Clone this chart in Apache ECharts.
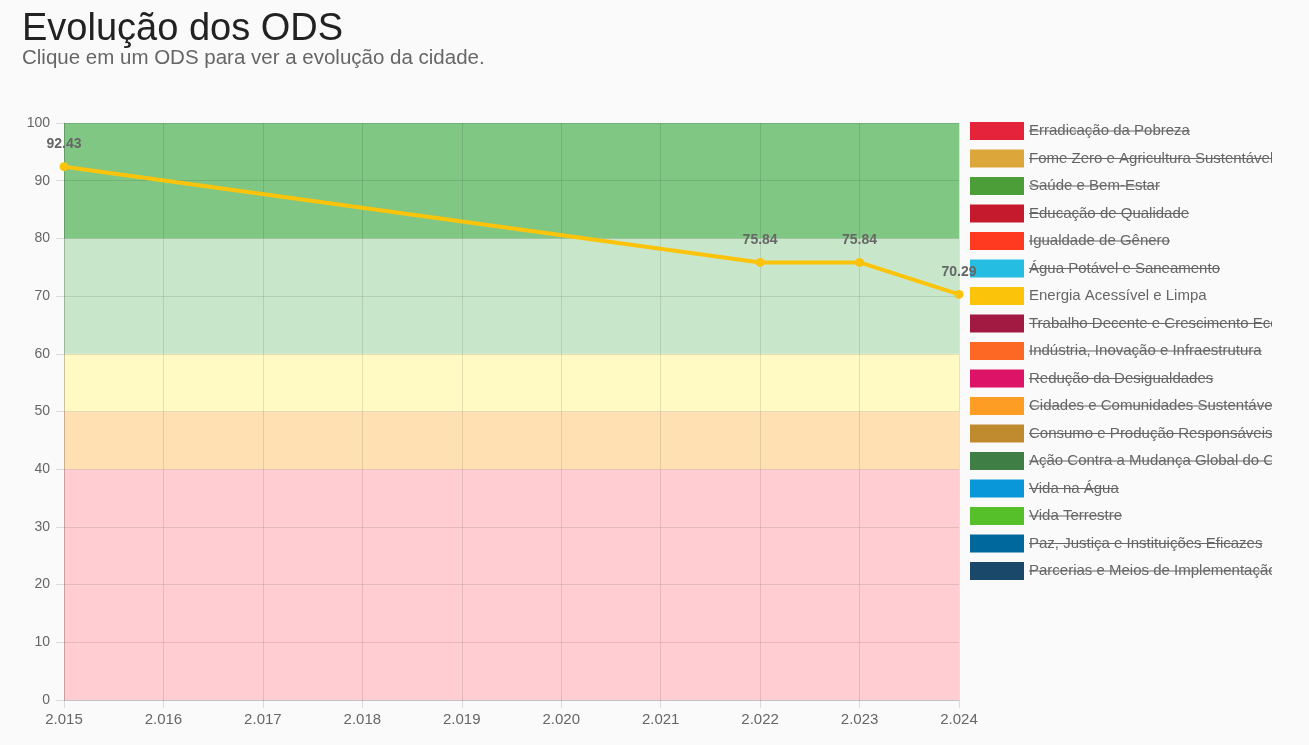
<!DOCTYPE html>
<html>
<head>
    <meta charset="utf-8">
    <script src="https://cdn.jsdelivr.net/npm/echarts@6/dist/echarts.min.js"></script>
    <style>
        body { margin: 0; background: #fafafa; }
        #main { width: 1272px; height: 745px; }
    </style>
</head>
<body>
    <div id="main"></div>
    <script type="text/javascript">
        var odsNames = [
            'Erradicação da Pobreza',
            'Fome Zero e Agricultura Sustentável',
            'Saúde e Bem-Estar',
            'Educação de Qualidade',
            'Igualdade de Gênero',
            'Água Potável e Saneamento',
            'Energia Acessível e Limpa',
            'Trabalho Decente e Crescimento Econômico',
            'Indústria, Inovação e Infraestrutura',
            'Redução da Desigualdades',
            'Cidades e Comunidades Sustentáveis',
            'Consumo e Produção Responsáveis',
            'Ação Contra a Mudança Global do Clima',
            'Vida na Água',
            'Vida Terrestre',
            'Paz, Justiça e Instituições Eficazes',
            'Parcerias e Meios de Implementação'
        ];
        var odsColors = [
            '#e5243b', '#dda63a', '#4c9f38', '#c5192d', '#ff3a21', '#26bde2',
            '#fcc30b', '#a21942', '#fd6925', '#dd1367', '#fd9d24', '#bf8b2e',
            '#3f7e44', '#0a97d9', '#56c02b', '#00689d', '#19486a'
        ];
        // só este ODS está ativo, os outros aparecem riscados na legenda
        var odsAtivo = 'Energia Acessível e Limpa';

        var anos = [2015, 2022, 2023, 2024];
        var notas = [92.43, 75.84, 75.84, 70.29];

        // faixas de desempenho (limites do eixo y)
        var faixas = [0, 40, 50, 60, 80, 100];
        var corFaixas = ['#ffcdd2', '#ffe0b2', '#fff9c4', '#c8e6c9', '#81c784'];

        var fonte = '"Liberation Sans", Arial, Helvetica, sans-serif';
        var myChart = echarts.init(document.getElementById('main'));

        var formatAno = function (v) {
            return String(v).replace(/(\d)(\d{3})$/, '$1.$2');
        };

        var areas = [];
        for (var i = 0; i < corFaixas.length; i++) {
            areas.push([
                { yAxis: faixas[i], itemStyle: { color: corFaixas[i] } },
                { yAxis: faixas[i + 1] }
            ]);
        }

        var series = [{
            name: 'faixas',
            type: 'line',
            data: [],
            z: 1,
            silent: true,
            markArea: { silent: true, data: areas }
        }];
        odsNames.forEach(function (nome, idx) {
            var dados = [];
            if (nome === odsAtivo) {
                for (var k = 0; k < anos.length; k++) dados.push([anos[k], notas[k]]);
            }
            series.push({
                name: nome,
                type: 'line',
                z: 5,
                data: dados,
                color: odsColors[idx],
                symbol: 'circle',
                symbolSize: 9,
                lineStyle: { width: 4, color: odsColors[idx] },
                itemStyle: { color: odsColors[idx] },
                label: {
                    show: true,
                    position: 'top',
                    distance: 11,
                    color: '#666',
                    fontWeight: 'bold',
                    fontSize: 14,
                    fontFamily: fonte,
                    formatter: function (p) { return p.value[1].toFixed(2); }
                }
            });
        });

        // legenda: caixas e textos; itens desativados recebem um risco
        var legLeft = 970, legTop = 122, boxW = 54, boxH = 18, legGap = 9.5;
        var medidor = document.createElement('canvas').getContext('2d');
        medidor.font = '15px ' + fonte;
        var riscos = [];
        odsNames.forEach(function (nome, idx) {
            if (nome === odsAtivo) return;
            var y = legTop + idx * (boxH + legGap) + boxH / 2;
            var x0 = legLeft + boxW + 5;
            riscos.push({
                type: 'line',
                z: 10,
                silent: true,
                shape: { x1: x0, y1: y, x2: x0 + medidor.measureText(nome).width, y2: y },
                style: { stroke: '#666', lineWidth: 1.2 }
            });
        });

        var option = {
            backgroundColor: '#fafafa',
            animation: false,
            title: [{
                text: 'Evolução dos ODS',
                left: 22,
                top: 11,
                padding: 0,
                textStyle: { fontSize: 38, fontWeight: 'normal', color: '#222', fontFamily: fonte }
            }, {
                text: 'Clique em um ODS para ver a evolução da cidade.',
                left: 22,
                top: 48,
                padding: 0,
                textStyle: { fontSize: 20.5, fontWeight: 'normal', color: '#666', fontFamily: fonte }
            }],
            legend: {
                orient: 'vertical',
                left: legLeft,
                top: legTop,
                padding: 0,
                icon: 'rect',
                itemWidth: boxW,
                itemHeight: boxH,
                itemGap: legGap,
                selectedMode: false,
                data: odsNames,
                textStyle: { color: '#666', fontSize: 15, fontFamily: fonte }
            },
            grid: { left: 64, top: 123, right: 313, bottom: 45 },
            xAxis: {
                type: 'value',
                min: 2015,
                max: 2024,
                interval: 1,
                z: 3,
                axisLine: { show: true, lineStyle: { color: 'rgba(0,0,0,0.12)' } },
                axisTick: { show: true, length: 8, lineStyle: { color: 'rgba(0,0,0,0.12)' } },
                splitLine: { show: true, lineStyle: { color: 'rgba(0,0,0,0.1)' } },
                axisLabel: { color: '#666', fontSize: 15, fontFamily: fonte, margin: 12, formatter: formatAno }
            },
            yAxis: {
                type: 'value',
                min: 0,
                max: 100,
                interval: 10,
                z: 3,
                axisLine: { show: true, lineStyle: { color: 'rgba(0,0,0,0.12)' } },
                axisTick: { show: true, length: 8, lineStyle: { color: 'rgba(0,0,0,0.12)' } },
                splitLine: { show: true, lineStyle: { color: 'rgba(0,0,0,0.1)' } },
                axisLabel: { color: '#666', fontSize: 14, fontFamily: fonte, margin: 14 }
            },
            graphic: riscos,
            series: series
        };

        myChart.setOption(option);
    </script>
</body>
</html>
